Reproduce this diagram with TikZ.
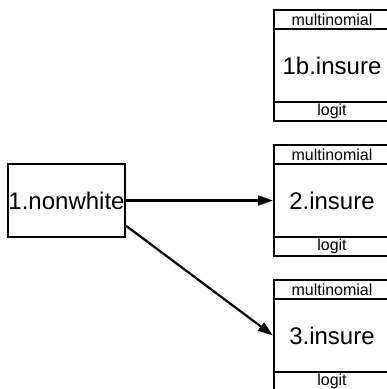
\documentclass[tikz,border=0pt]{standalone}
\usepackage{fontspec}
\setmainfont{Liberation Sans}
\usetikzlibrary{arrows.meta}
\begin{document}
\begin{tikzpicture}[x=1pt, y=1pt, line width=2.2pt,
  var node/.style={rectangle,draw,inner sep=0pt,minimum width=117pt,minimum height=73pt,font=\fontsize{24}{28}\selectfont},
  dep node/.style={rectangle,draw,inner sep=0pt,minimum width=116pt,minimum height=111pt,font=\fontsize{24}{28}\selectfont},
  band/.style={rectangle,draw,inner sep=0pt,minimum width=116pt,minimum height=19pt,font=\fontsize{16}{18}\selectfont},
  link/.style={-{Triangle[length=15pt,width=10pt]}}]
\useasboundingbox (0,0) rectangle (387,-389);
\node [var node](nw) at (66.5,-200.5) {1.nonwhite};
\node [dep node](i1) at (332,-65.5) {1b.insure};
\node [dep node](i2) at (332,-200.5) {2.insure};
\node [dep node](i3) at (332,-335.5) {3.insure};
\foreach \n in {i1,i2,i3} {
  \node [band, anchor=north](\n m) at (\n.north) {multinomial};
  \node [band, anchor=south](\n l) at (\n.south) {logit};
}
\path [link]
    (nw) edge (i2.west)
    (nw.-23) edge (i3.west)
         ;
\end{tikzpicture}
\end{document}
